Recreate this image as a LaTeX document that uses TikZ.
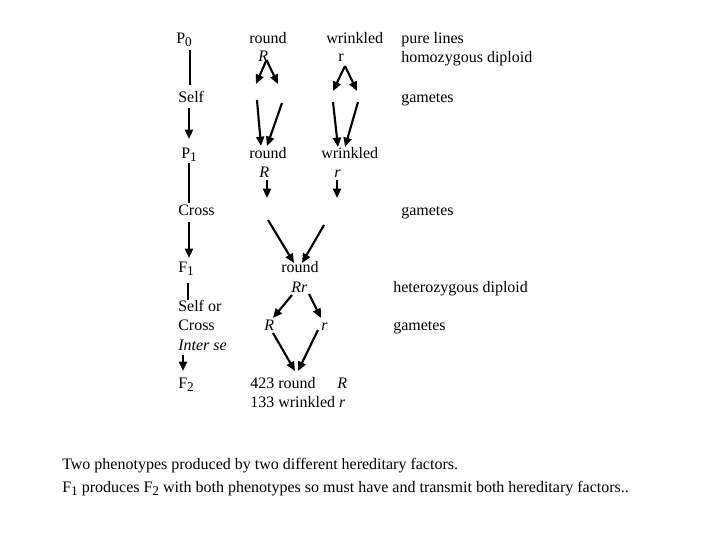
\documentclass[tikz,border=0pt]{standalone}
\usepackage{fontspec}
\setmainfont{Liberation Serif}
\usetikzlibrary{arrows.meta}
\newcommand{\mysub}[1]{\raisebox{-0.45ex}{\fontsize{10}{10}\selectfont #1}}
\begin{document}
\begin{tikzpicture}[x=0.75pt,y=-0.75pt,
  lbl/.style={anchor=base west,inner sep=0pt,font=\fontsize{12}{14}\selectfont},
  conn/.style={line width=1.6pt,-{Triangle[length=7pt,width=6pt]}},
  bar/.style={line width=1.6pt}]
\useasboundingbox (0,0) rectangle (720,540);
% left column
\node[lbl] (p0) at (176,43) {P\mysub{0}};
\node[lbl] (self) at (178,102) {Self};
\node[lbl] (p1) at (181,158) {P\mysub{1}};
\node[lbl] (cross) at (178,215) {Cross};
\node[lbl] (f1) at (178,272) {F\mysub{1}};
\node[lbl] (selfor) at (178,311) {Self or};
\node[lbl] (cross2) at (178,330) {Cross};
\node[lbl] (interse) at (178,350) {\textit{Inter se}};
\node[lbl] (f2) at (178,388) {F\mysub{2}};
% parents
\node[lbl] (round0) at (249,43) {round};
\node[lbl] (R0) at (258,61) {\textit{R}};
\node[lbl] (wr0) at (326,43) {wrinkled};
\node[lbl] (r0) at (338,61) {r};
\node[lbl] (pure) at (401,43) {pure lines};
\node[lbl] (homo) at (401,62) {homozygous diploid};
\node[lbl] (gam1) at (401,102) {gametes};
% P1
\node[lbl] (round1) at (249,158) {round};
\node[lbl] (R1) at (259,177) {\textit{R}};
\node[lbl] (wr1) at (321,158) {wrinkled};
\node[lbl] (r1) at (334,177) {\textit{r}};
\node[lbl] (gam2) at (401,215) {gametes};
% F1
\node[lbl] (round2) at (281,272) {round};
\node[lbl] (Rr) at (291,292) {\textit{Rr}};
\node[lbl] (hetero) at (393,292) {heterozygous diploid};
\node[lbl] (R2) at (264,330) {\textit{R}};
\node[lbl] (r2) at (321,330) {\textit{r}};
\node[lbl] (gam3) at (393,330) {gametes};
% F2
\node[lbl] (n423) at (250,388) {423 round};
\node[lbl] (R3) at (337,388) {\textit{R}};
\node[lbl] (n133) at (250,407) {133 wrinkled \textit{r}};
% bottom text
\node[lbl] (t1) at (62,469) {Two phenotypes produced by two different hereditary factors.};
\node[lbl] (t2) at (62,492) {F\mysub{1} produces F\mysub{2} with both phenotypes so must have and transmit both hereditary factors..};
% coordinates
\coordinate (a1) at (190,50);   \coordinate (a2) at (190,85);
\coordinate (b1) at (189,108);  \coordinate (b2) at (189,139);
\coordinate (c1) at (189,163);  \coordinate (c2) at (189,203);
\coordinate (d1) at (189,222);  \coordinate (d2) at (189,258);
\coordinate (e1) at (188,283);  \coordinate (e2) at (188,300);
\coordinate (g1) at (183,355);  \coordinate (g2) at (183,371);
\coordinate (Rs) at (266.5,60); \coordinate (Rl) at (256,84); \coordinate (Rrt) at (278,84);
\coordinate (rs) at (345,66);   \coordinate (rl) at (333,91); \coordinate (rrt) at (357,91);
\coordinate (k1) at (257,100);  \coordinate (k2) at (261,146);
\coordinate (k3) at (282,103);  \coordinate (k4) at (267,146);
\coordinate (m1) at (333,102);  \coordinate (m2) at (338,147);
\coordinate (m3) at (358,102);  \coordinate (m4) at (345,147);
\coordinate (n1) at (267,180);  \coordinate (n2) at (267,198);
\coordinate (o1) at (337,180);  \coordinate (o2) at (337,198);
\coordinate (q1) at (268,220);  \coordinate (q2) at (294,263);
\coordinate (q3) at (324,225);  \coordinate (q4) at (302,263);
\coordinate (s1) at (292,295);  \coordinate (s2) at (273,318);
\coordinate (s3) at (309,294);  \coordinate (s4) at (321,318);
\coordinate (u1) at (273,333);  \coordinate (u2) at (295,371);
\coordinate (u3) at (318,330);  \coordinate (u4) at (298,371);
% connectors
\draw[bar] (a1) -- (a2);
\draw[conn] (b1) -- (b2);
\draw[bar] (c1) -- (c2);
\draw[conn] (d1) -- (d2);
\draw[bar] (e1) -- (e2);
\draw[conn] (g1) -- (g2);
\draw[conn] (Rs) -- (Rl);
\draw[conn] (Rs) -- (Rrt);
\draw[conn] (rs) -- (rl);
\draw[conn] (rs) -- (rrt);
\draw[conn] (k1) -- (k2);
\draw[conn] (k3) -- (k4);
\draw[conn] (m1) -- (m2);
\draw[conn] (m3) -- (m4);
\draw[conn] (n1) -- (n2);
\draw[conn] (o1) -- (o2);
\draw[conn] (q1) -- (q2);
\draw[conn] (q3) -- (q4);
\draw[conn] (s1) -- (s2);
\draw[conn] (s3) -- (s4);
\draw[conn] (u1) -- (u2);
\draw[conn] (u3) -- (u4);
\end{tikzpicture}
\end{document}
